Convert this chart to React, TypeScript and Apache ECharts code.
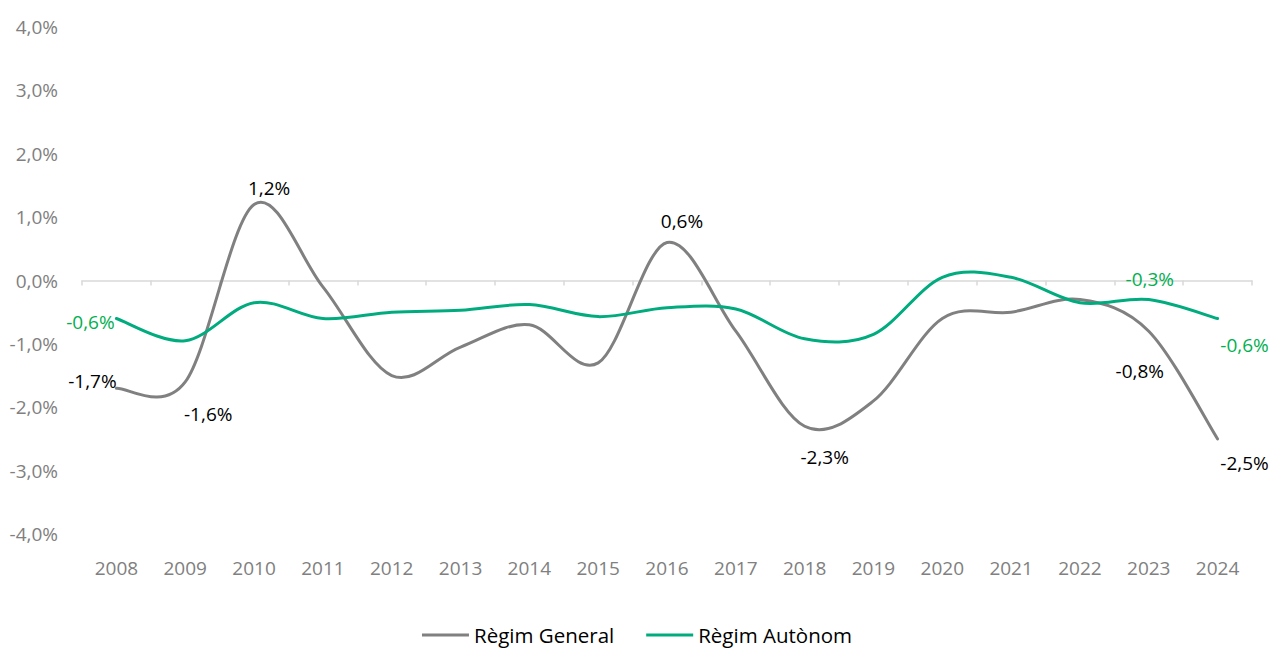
import React, { useEffect, useRef } from "react";
import * as echarts from "echarts";

const years = ["2008","2009","2010","2011","2012","2013","2014","2015","2016","2017","2018","2019","2020","2021","2022","2023","2024"];
const general = [-1.7, -1.6, 1.2, -0.1, -1.5, -1.05, -0.7, -1.3, 0.6, -0.8, -2.3, -1.9, -0.6, -0.5, -0.3, -0.8, -2.5];
const autonom = [-0.6, -0.95, -0.35, -0.6, -0.5, -0.47, -0.38, -0.57, -0.43, -0.45, -0.92, -0.85, 0.05, 0.05, -0.35, -0.3, -0.6];
const yTicks = [-4, -3, -2, -1, 0, 1, 2, 3, 4];

// label offsets (index -> [dx, dy]) for the shown data labels
const generalLabels: Record<number, [number, number]> = {
  0: [-24, -7], 1: [23, 32], 2: [15, -16], 8: [15, -21], 10: [20, 31], 15: [-9, 40], 16: [27, 24],
};
const autonomLabels: Record<number, [number, number]> = {
  0: [-26, 3], 15: [1, -21], 16: [27, 26],
};

const fmt = (v: number) => v.toFixed(1).replace(".", ",") + "%";
const FONT = "'Open Sans', sans-serif";

const GRAY = "#808080";
const GREEN = "#00AB7E";
const GREEN_LABEL = "#00B050";

function makeSeries(name: string, vals: number[], labels: Record<number, [number, number]>, color: string, labelColor: string, z: number) {
  return {
    name,
    type: "custom",
    xAxisIndex: 0,
    clip: false,
    z,
    itemStyle: { color },
    encode: { x: 0, y: 1 },
    data: [[0, vals[0]]],
    renderItem: (_params: any, api: any) => {
      const pts = vals.map((v, i) => api.coord([i, v]));
      const n = pts.length;
      let d = `M${pts[0][0]},${pts[0][1]}`;
      for (let i = 0; i < n - 1; i++) {
        const p0 = pts[Math.max(0, i - 1)];
        const p1 = pts[i];
        const p2 = pts[i + 1];
        const p3 = pts[Math.min(n - 1, i + 2)];
        const c1x = p1[0] + (p2[0] - p0[0]) / 6;
        const c1y = p1[1] + (p2[1] - p0[1]) / 6;
        const c2x = p2[0] - (p3[0] - p1[0]) / 6;
        const c2y = p2[1] - (p3[1] - p1[1]) / 6;
        d += ` C${c1x},${c1y} ${c2x},${c2y} ${p2[0]},${p2[1]}`;
      }
      const children: any[] = [
        {
          type: "path",
          shape: { pathData: d },
          style: { stroke: color, lineWidth: 3, fill: null, lineCap: "round", lineJoin: "round" },
        },
      ];
      Object.keys(labels).forEach((k) => {
        const i = Number(k);
        const [dx, dy] = labels[i];
        children.push({
          type: "text",
          x: pts[i][0] + dx,
          y: pts[i][1] + dy,
          style: {
            text: fmt(vals[i]),
            fill: labelColor,
            fontSize: 19,
            fontFamily: FONT,
            align: "center",
            verticalAlign: "middle",
          },
        });
      });
      return { type: "group", children };
    },
  };
}

export default function App() {
  const ref = useRef<HTMLDivElement>(null);
  useEffect(() => {
    if (!ref.current) return;
    const chart = echarts.init(ref.current, undefined, { renderer: "svg" });
    chart.setOption({
      animation: false,
      grid: { left: 82, right: 22, top: 27, bottom: 114, containLabel: false },
      legend: {
        left: "center",
        top: 618,
        icon: "rect",
        itemWidth: 47,
        itemHeight: 3,
        itemGap: 32,
        textStyle: { fontSize: 20.5, fontFamily: FONT, color: "#000", lineHeight: 24 },
        data: ["Règim General", "Règim Autònom"],
      },
      xAxis: [
        {
          type: "category",
          data: years,
          position: "bottom",
          boundaryGap: true,
          axisLine: { show: false, onZero: false },
          axisTick: { show: false },
          axisLabel: { color: GRAY, fontSize: 19, fontFamily: FONT, margin: 24 },
        },
        {
          type: "category",
          data: years,
          position: "bottom",
          boundaryGap: true,
          axisLine: { show: true, onZero: true, lineStyle: { color: "#d9d9d9", width: 1.5 } },
          axisTick: { show: true, length: 5, lineStyle: { color: "#d9d9d9", width: 1.5 } },
          axisLabel: { show: false },
        },
      ],
      yAxis: {
        type: "value",
        min: yTicks[0],
        max: yTicks[yTicks.length - 1],
        interval: 1,
        axisLine: { show: false },
        axisTick: { show: false },
        splitLine: { show: false },
        axisLabel: { color: GRAY, fontSize: 19, fontFamily: FONT, margin: 24, formatter: (v: number) => fmt(v) },
      },
      series: [
        makeSeries("Règim General", general, generalLabels, GRAY, "#000000", 3),
        makeSeries("Règim Autònom", autonom, autonomLabels, GREEN, GREEN_LABEL, 4),
      ],
    });
    return () => chart.dispose();
  }, []);
  return <div ref={ref} style={{ position: "fixed", left: 0, top: 0, width: 1274, height: 648, background: "#fff" }} />;
}
